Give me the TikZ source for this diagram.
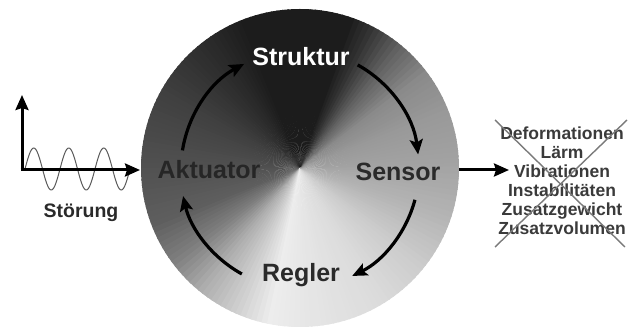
\documentclass[tikz,border=0pt]{standalone}
\usepackage{fontspec}
\setmainfont{Liberation Sans}
\usetikzlibrary{arrows.meta}
\definecolor{txtdark}{HTML}{2A2A2A}
\definecolor{aktcol}{HTML}{262626}
\definecolor{efftxt}{HTML}{3A3A3A}
\definecolor{crosscol}{HTML}{7A7A7A}
\definecolor{wavecol}{HTML}{5A5A5A}
\begin{document}
\begin{tikzpicture}[x=1pt,y=1pt,
  lbl/.style={font=\fontsize{25}{30}\selectfont\bfseries, inner sep=0pt},
  cyc/.style={line width=3.2pt, -{Stealth[length=15pt,width=13pt,inset=3pt]}},
  axis/.style={line width=3pt, -{Stealth[length=15pt,width=13pt,inset=2pt]}},
  effect/.style={font=\fontsize{17.5}{19}\selectfont\bfseries, text=efftxt, align=center, inner sep=0pt}]
\useasboundingbox (0,0) rectangle (632,329);
\coordinate (c) at (300,161);
\coordinate (ac) at (300,160);
% conical gradient disc
\begin{scope}
\clip (c) circle (159);
\foreach \a/\b/\ga/\gb in {0/20/64/60, 20/36/60/54, 36/50/54/38, 50/62/38/20, 62/70/20/11, 70/110/11/11, 110/126/11/17, 126/150/17/25, 150/180/25/32, 180/200/32/37, 200/216/37/50, 216/230/50/68, 230/246/68/82, 246/258/82/93, 258/262/93/92, 262/280/92/89, 280/300/89/86, 300/320/86/80, 320/340/80/71, 340/360/71/64}{
  \pgfmathtruncatemacro\n{(\b-\a)/2-1}
  \foreach \k in {0,...,\n}{
    \pgfmathsetmacro\ang{\a+2*\k}
    \pgfmathsetmacro\angb{\a+2*\k+2.6}
    \pgfmathsetmacro\g{\ga+(\gb-\ga)*2*\k/(\b-\a)}
    \fill[white!\g!black] (c) -- ([shift={(\ang:175)}]c) -- ([shift={(\angb:175)}]c) -- cycle;
  }
}
\end{scope}
% labels
\node[lbl, text=white] (struktur) at (301,272) {Struktur};
\node[lbl, text=aktcol] (aktuator) at (209,159) {Aktuator};
\node[lbl, text=txtdark] (sensor) at (398,157) {Sensor};
\node[lbl, text=txtdark] (regler) at (301,54) {Regler};
% cycle arrows
\draw[cyc] ([shift={(171:119)}]ac) arc (171:118:119);
\draw[cyc] ([shift={(61:119)}]ac) arc (61:7:119);
\draw[cyc] ([shift={(-15:119)}]ac) arc (-15:-64:119);
\draw[cyc] ([shift={(-119:120)}]ac) arc (-119:-167:120);
% disturbance
\coordinate (o) at (22,159);
\coordinate (ytip) at (22,234);
\coordinate (xtip) at (140,159);
\draw[wavecol, line width=1pt] plot[domain=25:130, samples=120, smooth] (\x,{160+21*sin(10.285714*(\x-25))});
\draw[axis] (o) -- (ytip);
\draw[axis] ([xshift=-1.5pt]o) -- (xtip);
\node[font=\fontsize{19.5}{22}\selectfont\bfseries, text=txtdark, inner sep=0pt] (stoerung) at (81,116) {Störung};
% output
\coordinate (out) at (459,159);
\coordinate (outtip) at (509,159);
\node[effect] (effects) at (562,148.5) {Deformationen\\Lärm\\Vibrationen\\Instabilitäten\\Zusatzgewicht\\Zusatzvolumen};
\draw[axis] (out) -- (outtip);
\draw[crosscol, line width=1.4pt] (495,209) -- (625,82);
\draw[crosscol, line width=1.4pt] (627,209) -- (495,82);
\end{tikzpicture}
\end{document}
